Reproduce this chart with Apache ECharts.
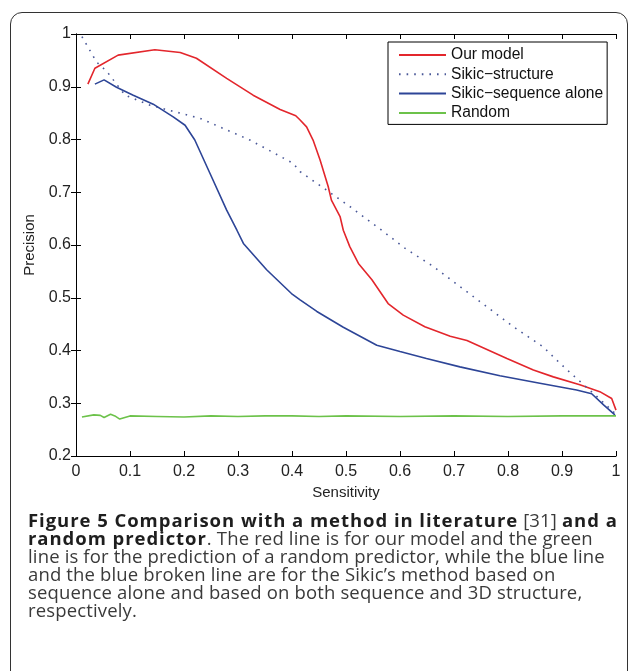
<!DOCTYPE html>
<html>
<head>
<meta charset="utf-8">
<script src="https://cdn.jsdelivr.net/npm/echarts@6/dist/echarts.min.js"></script>
<style>
  html, body { margin: 0; padding: 0; background: #fff; }
  #frame {
    position: absolute; left: 10px; top: 12px; width: 616px; height: 720px;
    border: 1.5px solid #333; border-radius: 12px;
  }
  #chart { position: absolute; left: 0; top: 0; width: 630px; height: 671px; }
  #caption {
    position: absolute; left: 28px; top: 511px; white-space: nowrap;
    font-family: "Open Sans", sans-serif; font-size: 18.5px; line-height: 18px;
    letter-spacing: 0.15px; color: #3a3a3a;
  }
  #caption b { color: #1e1e1e; font-weight: 700; letter-spacing: 0.95px; }
</style>
</head>
<body>
<div id="frame"></div>
<div id="chart"></div>
<div id="caption">
  <b>Figure 5 Comparison with a method in literature</b> [31] <b>and a</b><br>
  <b>random predictor</b>. The red line is for our model and the green<br>
  line is for the prediction of a random predictor, while the blue line<br>
  and the blue broken line are for the Sikic’s method based on<br>
  sequence alone and based on both sequence and 3D structure,<br>
  respectively.
</div>
<script>
// sensitivity / precision
const ourModelX = [0.022, 0.035, 0.078, 0.146, 0.193, 0.223, 0.279, 0.328, 0.378, 0.407, 0.415, 0.427, 0.439, 0.452, 0.467, 0.473, 0.489, 0.495, 0.507, 0.523, 0.548, 0.578, 0.606, 0.646, 0.693, 0.724, 0.798, 0.847, 0.884, 0.933, 0.970, 0.992, 1.0];
const ourModelY = [0.905, 0.935, 0.960, 0.970, 0.965, 0.954, 0.916, 0.884, 0.857, 0.845, 0.837, 0.824, 0.799, 0.761, 0.711, 0.685, 0.654, 0.628, 0.597, 0.565, 0.534, 0.489, 0.467, 0.445, 0.427, 0.419, 0.385, 0.363, 0.350, 0.335, 0.322, 0.309, 0.287];

const structX = [0.011, 0.038, 0.057, 0.091, 0.137, 0.230, 0.322, 0.402, 0.415, 0.464, 0.507, 0.566, 0.609, 0.662, 0.736, 0.810, 0.865, 0.896, 0.927, 0.958, 0.998];
const structY = [0.995, 0.947, 0.929, 0.884, 0.865, 0.840, 0.799, 0.755, 0.739, 0.704, 0.673, 0.628, 0.594, 0.559, 0.502, 0.445, 0.407, 0.376, 0.347, 0.319, 0.281];

const seqAloneX = [0.035, 0.052, 0.075, 0.106, 0.143, 0.180, 0.202, 0.220, 0.248, 0.279, 0.298, 0.310, 0.353, 0.399, 0.415, 0.446, 0.495, 0.557, 0.600, 0.649, 0.711, 0.785, 0.859, 0.927, 0.955, 0.977, 0.998];
const seqAloneY = [0.905, 0.913, 0.899, 0.884, 0.867, 0.843, 0.827, 0.799, 0.736, 0.666, 0.628, 0.603, 0.553, 0.508, 0.496, 0.474, 0.444, 0.410, 0.398, 0.385, 0.369, 0.352, 0.338, 0.325, 0.318, 0.297, 0.278];

const randomX = [0.011, 0.033, 0.045, 0.052, 0.064, 0.072, 0.081, 0.100, 0.150, 0.200, 0.250, 0.300, 0.350, 0.400, 0.450, 0.500, 0.600, 0.700, 0.800, 0.900, 1.0];
const randomY = [0.274, 0.278, 0.277, 0.273, 0.279, 0.276, 0.270, 0.276, 0.275, 0.274, 0.276, 0.275, 0.276, 0.276, 0.275, 0.276, 0.275, 0.276, 0.275, 0.276, 0.276];

const seriesNames = ['Our model', 'Sikic\u2212structure', 'Sikic\u2212sequence alone', 'Random'];

const zip = (xs, ys) => xs.map((x, i) => [x, ys[i]]);
const font = "'Liberation Sans', Arial, sans-serif";

const chart = echarts.init(document.getElementById('chart'), null, { renderer: 'canvas' });

const axisCommon = {
  type: 'value',
  axisLine: { lineStyle: { color: '#000', width: 1 } },
  axisTick: { inside: true, length: 5, lineStyle: { color: '#000' } },
  splitLine: { show: false },
};

chart.setOption({
  animation: false,
  backgroundColor: 'transparent',
  grid: { left: 76, top: 34, width: 540, height: 422, containLabel: false },
  legend: {
    data: seriesNames,
    orient: 'vertical',
    left: 388, top: 42,
    padding: [5, 4, 3.5, 10],
    itemGap: 3.3,
    itemWidth: 47, itemHeight: 14,
    backgroundColor: '#fff',
    borderColor: '#000', borderWidth: 1, borderRadius: 0,
    itemStyle: { opacity: 0 },
    textStyle: { fontFamily: font, fontSize: 15.6, lineHeight: 15, color: '#111', padding: [0, 0, 0, 0] },
  },
  xAxis: [
    Object.assign({}, axisCommon, {
      min: 0, max: 1, interval: 0.1, position: 'bottom',
      name: 'Sensitivity', nameLocation: 'middle', nameGap: 25,
      nameTextStyle: { fontFamily: font, fontSize: 15, color: '#222' },
      axisLabel: { margin: 8, fontFamily: font, fontSize: 16, color: '#222' },
    }),
    Object.assign({}, axisCommon, {
      min: 0, max: 1, interval: 0.1, position: 'top',
      axisLabel: { show: false },
    }),
  ],
  yAxis: [
    Object.assign({}, axisCommon, {
      min: 0.2, max: 1, interval: 0.1, position: 'left',
      name: 'Precision', nameLocation: 'middle', nameGap: 34,
      nameTextStyle: { fontFamily: font, fontSize: 15, color: '#222' },
      axisLabel: { margin: 5, fontFamily: font, fontSize: 16, color: '#222' },
    }),
    Object.assign({}, axisCommon, {
      min: 0.2, max: 1, interval: 0.1, position: 'right',
      axisLabel: { show: false },
    }),
  ],
  series: [
    {
      name: seriesNames[0], type: 'line', symbol: 'none', data: zip(ourModelX, ourModelY),
      lineStyle: { color: '#e3262c', width: 1.6 }, itemStyle: { color: '#e3262c' },
    },
    {
      name: seriesNames[1], type: 'line', symbol: 'none', data: zip(structX, structY),
      lineStyle: { color: '#4a5898', width: 1.6, type: [1.6, 6] }, itemStyle: { color: '#4a5898' },
    },
    {
      name: seriesNames[2], type: 'line', symbol: 'none', data: zip(seqAloneX, seqAloneY),
      lineStyle: { color: '#2d4597', width: 1.6 }, itemStyle: { color: '#2d4597' },
    },
    {
      name: seriesNames[3], type: 'line', symbol: 'none', data: zip(randomX, randomY),
      lineStyle: { color: '#6cc24a', width: 1.6 }, itemStyle: { color: '#6cc24a' },
    },
  ],
});
</script>
</body>
</html>
